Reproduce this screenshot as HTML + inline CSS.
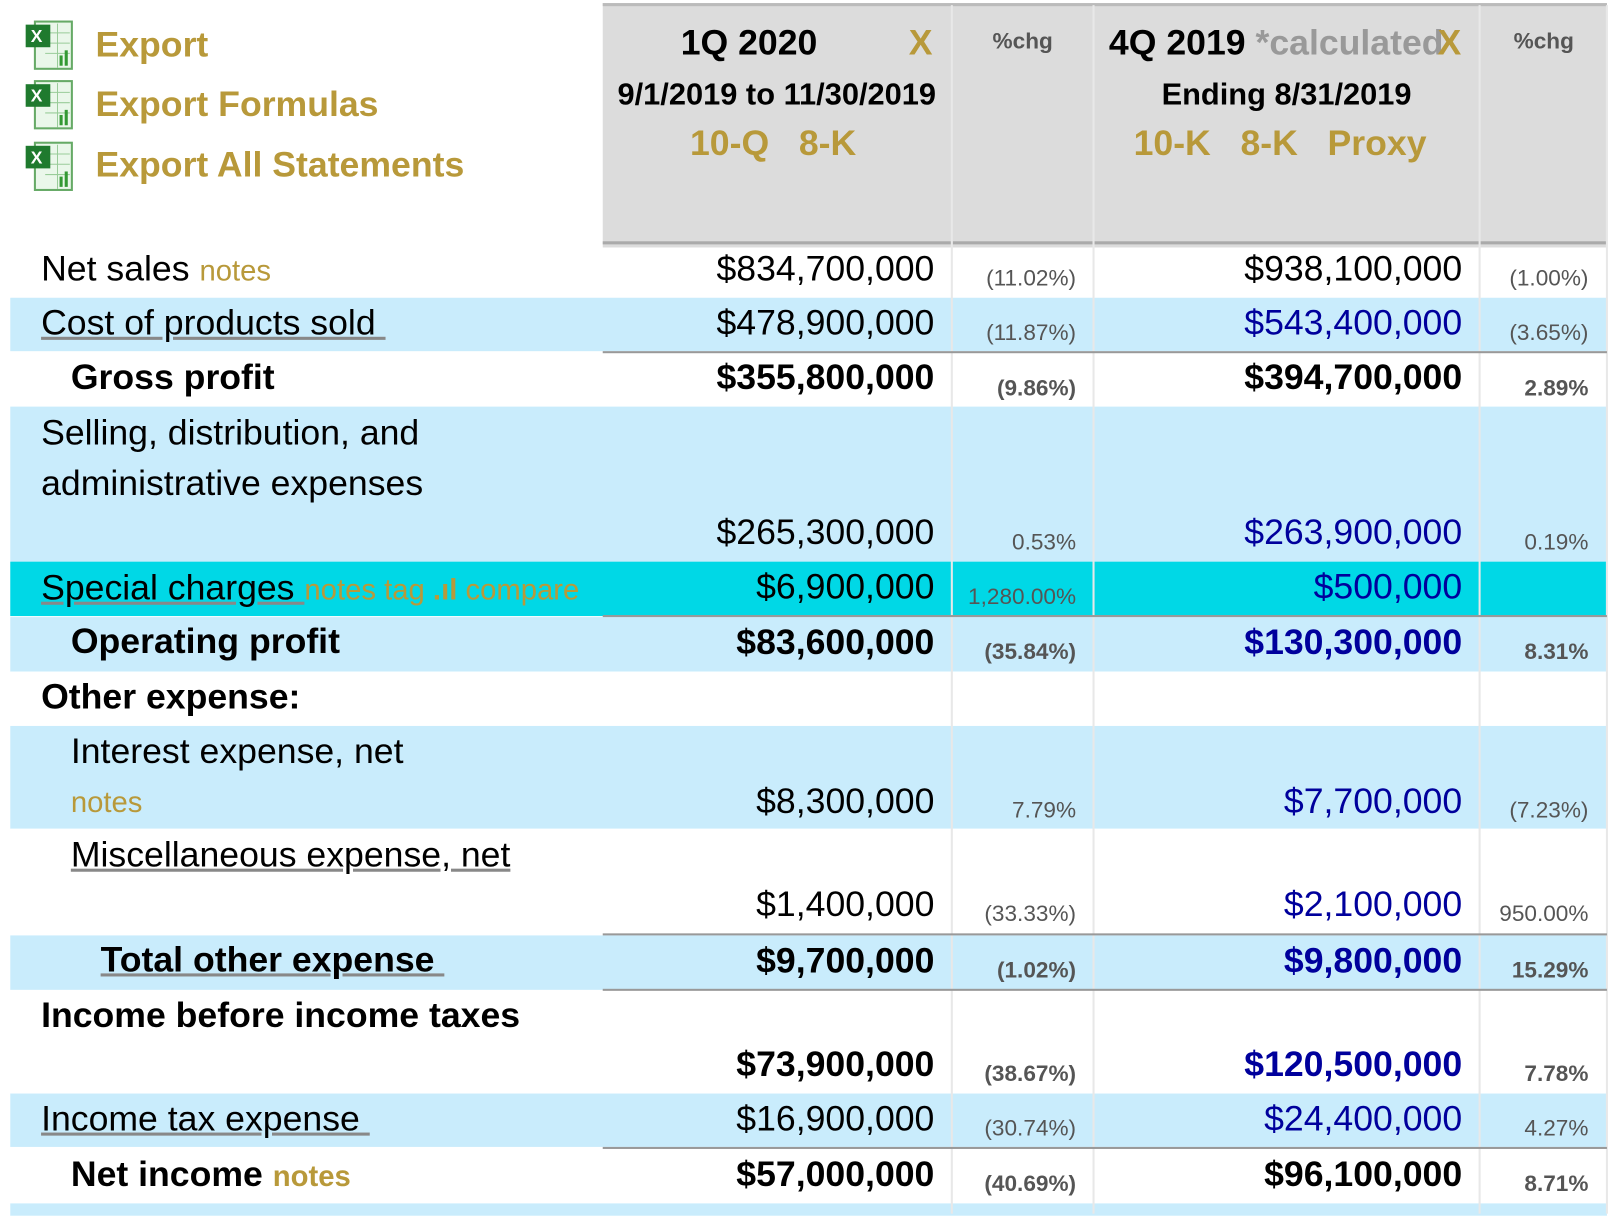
<!DOCTYPE html>
<html><head><meta charset="utf-8"><style>
html,body{margin:0;padding:0;background:#fff;width:1610px;height:1214px;overflow:hidden}
#w{position:absolute;left:0;top:0;width:1568px;height:1182px;transform:scale(1.02679);transform-origin:0 0;font-family:"Liberation Sans",Arial,sans-serif}
.a{position:absolute;white-space:nowrap}
.bg{position:absolute}
.v{position:absolute;font-size:34.7px;line-height:40px;text-align:right;white-space:nowrap}
.p{position:absolute;font-size:22px;line-height:24px;text-align:right;color:#555;white-space:nowrap}
.l{position:absolute;font-size:34.7px;line-height:40px;white-space:nowrap;color:#000}
.b{font-weight:bold}
.g{color:#b8993a}
.bl{color:#00009c}
.u{text-decoration:underline;text-decoration-color:#888}
.n{font-size:28.5px}
.vl{position:absolute;width:2px;background:#e8e8e8;top:5px;height:1177px}
.hl{position:absolute;height:2px;background:#999;left:587px;width:978px}
.ic{position:absolute;width:50px;height:52px}
</style></head><body><div id="w">
<div class="bg" style="left:587px;top:3px;width:978px;height:235px;background:#dcdcdc;border-top:3px solid #bbb"></div>
<div class="bg" style="left:587px;top:235px;width:978px;height:3px;background:#aaa"></div>
<div class="bg" style="left:10px;top:290px;width:1555px;height:52px;background:#c9ecfc"></div>
<div class="bg" style="left:10px;top:396px;width:1555px;height:151px;background:#c9ecfc"></div>
<div class="bg" style="left:10px;top:547px;width:1555px;height:53px;background:#00d8e6"></div>
<div class="bg" style="left:10px;top:601px;width:1555px;height:53px;background:#c9ecfc"></div>
<div class="bg" style="left:10px;top:707px;width:1555px;height:100px;background:#c9ecfc"></div>
<div class="bg" style="left:10px;top:911px;width:1555px;height:53px;background:#c9ecfc"></div>
<div class="bg" style="left:10px;top:1065px;width:1555px;height:52px;background:#c9ecfc"></div>
<div class="bg" style="left:10px;top:1172px;width:1555px;height:12px;background:#c9ecfc"></div>
<div class="vl" style="left:926px"></div><div class="vl" style="left:1064px"></div><div class="vl" style="left:1440px"></div><div class="vl" style="left:1564px"></div>
<div class="hl" style="top:342px"></div><div class="hl" style="top:599px"></div><div class="hl" style="top:909px"></div><div class="hl" style="top:963px"></div><div class="hl" style="top:1117px"></div>
<svg class="ic" style="left:24px;top:18px" viewBox="0 0 50 52"><rect x="10" y="3" width="36" height="46" fill="#eaf7ea" stroke="#6a6" stroke-width="2"/><path d="M20 14H44M20 24H44M20 34H44M32 5V48" stroke="#9c9" stroke-width="1"/><rect x="1" y="6" width="24" height="22" fill="#1f7a2e"/><text x="6" y="23" font-size="17" font-weight="bold" fill="#fff" font-family="Liberation Sans">X</text><rect x="34" y="36" width="3" height="10" fill="#393"/><rect x="39" y="31" width="3" height="15" fill="#393"/></svg>
<svg class="ic" style="left:24px;top:76px" viewBox="0 0 50 52"><rect x="10" y="3" width="36" height="46" fill="#eaf7ea" stroke="#6a6" stroke-width="2"/><path d="M20 14H44M20 24H44M20 34H44M32 5V48" stroke="#9c9" stroke-width="1"/><rect x="1" y="6" width="24" height="22" fill="#1f7a2e"/><text x="6" y="23" font-size="17" font-weight="bold" fill="#fff" font-family="Liberation Sans">X</text><rect x="34" y="36" width="3" height="10" fill="#393"/><rect x="39" y="31" width="3" height="15" fill="#393"/></svg>
<svg class="ic" style="left:24px;top:136px" viewBox="0 0 50 52"><rect x="10" y="3" width="36" height="46" fill="#eaf7ea" stroke="#6a6" stroke-width="2"/><path d="M20 14H44M20 24H44M20 34H44M32 5V48" stroke="#9c9" stroke-width="1"/><rect x="1" y="6" width="24" height="22" fill="#1f7a2e"/><text x="6" y="23" font-size="17" font-weight="bold" fill="#fff" font-family="Liberation Sans">X</text><rect x="34" y="36" width="3" height="10" fill="#393"/><rect x="39" y="31" width="3" height="15" fill="#393"/></svg>
<div class="l b g" style="left:93px;top:24px">Export</div>
<div class="l b g" style="left:93px;top:82px">Export Formulas</div>
<div class="l b g" style="left:93px;top:141px">Export All Statements</div>
<div class="l b" style="left:587px;width:285px;text-align:center;top:22px">1Q 2020</div>
<div class="l b g" style="left:885px;top:22px">X</div>
<div class="l b" style="left:587px;width:339px;text-align:center;top:73px;font-size:30px">9/1/2019 to 11/30/2019</div>
<div class="l b g" style="left:672px;top:120px">10-Q &nbsp;&nbsp;8-K</div>
<div class="p b" style="left:928px;width:136px;text-align:center;top:28px">%chg</div>
<div class="l b" style="left:1080px;top:22px">4Q 2019 <span style="color:#999">*calculated</span></div>
<div class="l b g" style="left:1400px;top:22px">X</div>
<div class="l b" style="left:1066px;width:374px;text-align:center;top:73px;font-size:30px">Ending 8/31/2019</div>
<div class="l b g" style="left:1104px;top:120px">10-K &nbsp;&nbsp;8-K &nbsp;&nbsp;Proxy</div>
<div class="p b" style="left:1442px;width:123px;text-align:center;top:28px">%chg</div>
<div class="l" style="left:40px;top:242px">Net sales <span class="g n">notes</span></div>
<div class="l u" style="left:40px;top:295px">Cost of products sold&nbsp;</div>
<div class="l b" style="left:69px;top:348px">Gross profit</div>
<div class="l" style="left:40px;top:402px">Selling, distribution, and</div>
<div class="l" style="left:40px;top:451px">administrative expenses</div>
<div class="l" style="left:40px;top:553px"><span class="u">Special charges&nbsp;</span><span class="g n">notes tag <b>.ıl</b> compare</span></div>
<div class="l b" style="left:69px;top:605px">Operating profit</div>
<div class="l b" style="left:40px;top:659px">Other expense:</div>
<div class="l" style="left:69px;top:712px">Interest expense, net</div>
<div class="l g n" style="left:69px;top:762px">notes</div>
<div class="l u" style="left:69px;top:813px">Miscellaneous expense, net</div>
<div class="l b u" style="left:98px;top:915px">Total other expense&nbsp;</div>
<div class="l b" style="left:40px;top:969px">Income before income taxes</div>
<div class="l u" style="left:40px;top:1070px">Income tax expense&nbsp;</div>
<div class="l b" style="left:69px;top:1124px">Net income <span class="g n">notes</span></div>
<div class="v" style="right:658px;top:242px">$834,700,000</div>
<div class="v" style="right:658px;top:295px">$478,900,000</div>
<div class="v b" style="right:658px;top:348px">$355,800,000</div>
<div class="v" style="right:658px;top:499px">$265,300,000</div>
<div class="v" style="right:658px;top:552px">$6,900,000</div>
<div class="v b" style="right:658px;top:606px">$83,600,000</div>
<div class="v" style="right:658px;top:761px">$8,300,000</div>
<div class="v" style="right:658px;top:861px">$1,400,000</div>
<div class="v b" style="right:658px;top:916px">$9,700,000</div>
<div class="v b" style="right:658px;top:1017px">$73,900,000</div>
<div class="v" style="right:658px;top:1070px">$16,900,000</div>
<div class="v b" style="right:658px;top:1124px">$57,000,000</div>
<div class="p" style="right:520px;top:259px">(11.02%)</div>
<div class="p" style="right:520px;top:312px">(11.87%)</div>
<div class="p b" style="right:520px;top:366px">(9.86%)</div>
<div class="p" style="right:520px;top:516px">0.53%</div>
<div class="p" style="right:520px;top:569px">1,280.00%</div>
<div class="p b" style="right:520px;top:623px">(35.84%)</div>
<div class="p" style="right:520px;top:777px">7.79%</div>
<div class="p" style="right:520px;top:878px">(33.33%)</div>
<div class="p b" style="right:520px;top:933px">(1.02%)</div>
<div class="p b" style="right:520px;top:1034px">(38.67%)</div>
<div class="p" style="right:520px;top:1087px">(30.74%)</div>
<div class="p b" style="right:520px;top:1141px">(40.69%)</div>
<div class="v" style="right:144px;top:242px">$938,100,000</div>
<div class="v bl" style="right:144px;top:295px">$543,400,000</div>
<div class="v b" style="right:144px;top:348px">$394,700,000</div>
<div class="v bl" style="right:144px;top:499px">$263,900,000</div>
<div class="v bl" style="right:144px;top:552px">$500,000</div>
<div class="v b bl" style="right:144px;top:606px">$130,300,000</div>
<div class="v bl" style="right:144px;top:761px">$7,700,000</div>
<div class="v bl" style="right:144px;top:861px">$2,100,000</div>
<div class="v b bl" style="right:144px;top:916px">$9,800,000</div>
<div class="v b bl" style="right:144px;top:1017px">$120,500,000</div>
<div class="v bl" style="right:144px;top:1070px">$24,400,000</div>
<div class="v b" style="right:144px;top:1124px">$96,100,000</div>
<div class="p" style="right:21px;top:259px">(1.00%)</div>
<div class="p" style="right:21px;top:312px">(3.65%)</div>
<div class="p b" style="right:21px;top:366px">2.89%</div>
<div class="p" style="right:21px;top:516px">0.19%</div>
<div class="p b" style="right:21px;top:623px">8.31%</div>
<div class="p" style="right:21px;top:777px">(7.23%)</div>
<div class="p" style="right:21px;top:878px">950.00%</div>
<div class="p b" style="right:21px;top:933px">15.29%</div>
<div class="p b" style="right:21px;top:1034px">7.78%</div>
<div class="p" style="right:21px;top:1087px">4.27%</div>
<div class="p b" style="right:21px;top:1141px">8.71%</div>
</div></body></html>
